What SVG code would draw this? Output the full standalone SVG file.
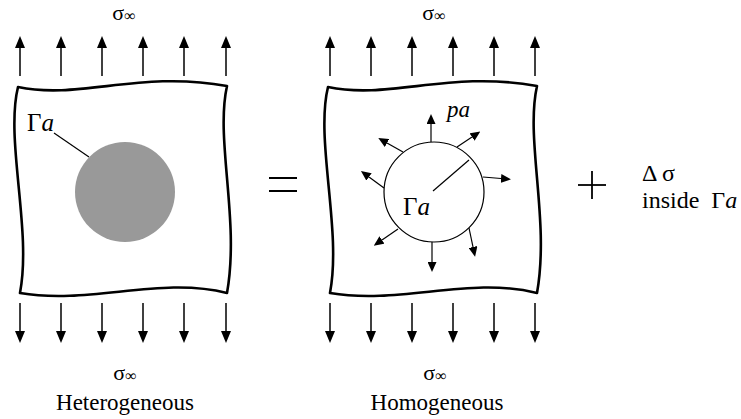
<svg xmlns="http://www.w3.org/2000/svg" width="741" height="419" viewBox="0 0 741 419">
<style>
text{font-family:"Liberation Serif",Tinos,"Times New Roman","DejaVu Serif",serif;fill:#000}
.box{fill:#fff;stroke:#000;stroke-width:2.6;stroke-linejoin:round}
.ar{stroke:#000;stroke-width:1.5;fill:none}
.thin{stroke:#000;stroke-width:1.2;fill:none}
.sig{font-size:22px}
.inf{font-size:16px}
</style>
<defs>
<marker id="ah" viewBox="0 0 12 10" refX="0" refY="5" markerWidth="12" markerHeight="10" markerUnits="userSpaceOnUse" orient="auto">
<path d="M0,0 L12,5 L0,10 Z" fill="#000"/>
</marker>
<marker id="sh" viewBox="0 0 10 9" refX="0" refY="4.5" markerWidth="10" markerHeight="9" markerUnits="userSpaceOnUse" orient="auto">
<path d="M0,0 L10,4.5 L0,9 Z" fill="#000"/>
</marker>
<path id="plate" d="M18,87 C80,100 140,70 227,86 C215,140 240,220 227,293 C160,276 90,305 20,293 C32,230 5,140 18,87 Z"/>
</defs>

<g id="heterogeneous">
<use href="#plate" class="box"/>
<circle cx="125" cy="192" r="50" fill="#999999"/>
<line x1="54" y1="133" x2="89" y2="157" class="thin"/>
<text x="27" y="131" font-size="25">Γ<tspan font-style="italic">a</tspan></text>
</g>

<g id="homogeneous">
<use href="#plate" class="box" transform="translate(310,0)"/>
<circle cx="434" cy="192" r="50" fill="#fff" stroke="#000" stroke-width="1.2"/>
<line x1="433" y1="191" x2="469" y2="160" class="thin"/>
<text x="403" y="215" font-size="25">Γ<tspan font-style="italic">a</tspan></text>
<text x="447" y="117" font-size="23" font-style="italic">pa</text>
</g>

<g id="connectors">
<g class="ar" marker-end="url(#ah)">
<line x1="20" y1="76" x2="20" y2="48"/>
<line x1="61" y1="76" x2="61" y2="48"/>
<line x1="102" y1="76" x2="102" y2="48"/>
<line x1="143" y1="76" x2="143" y2="48"/>
<line x1="184" y1="76" x2="184" y2="48"/>
<line x1="226" y1="76" x2="226" y2="48"/>
<line x1="330" y1="76" x2="330" y2="48"/>
<line x1="371" y1="76" x2="371" y2="48"/>
<line x1="412" y1="76" x2="412" y2="48"/>
<line x1="453" y1="76" x2="453" y2="48"/>
<line x1="494" y1="76" x2="494" y2="48"/>
<line x1="535" y1="76" x2="535" y2="48"/>
<line x1="20" y1="303" x2="20" y2="331"/>
<line x1="61" y1="303" x2="61" y2="331"/>
<line x1="102" y1="303" x2="102" y2="331"/>
<line x1="143" y1="303" x2="143" y2="331"/>
<line x1="184" y1="303" x2="184" y2="331"/>
<line x1="226" y1="303" x2="226" y2="331"/>
<line x1="330" y1="303" x2="330" y2="331"/>
<line x1="371" y1="303" x2="371" y2="331"/>
<line x1="412" y1="303" x2="412" y2="331"/>
<line x1="453" y1="303" x2="453" y2="331"/>
<line x1="494" y1="303" x2="494" y2="331"/>
<line x1="535" y1="303" x2="535" y2="331"/>
</g>
<g class="thin" marker-end="url(#sh)">
<line x1="431" y1="142" x2="431" y2="124"/>
<line x1="457" y1="147" x2="472" y2="137"/>
<line x1="483" y1="177" x2="501" y2="178.5"/>
<line x1="403" y1="152" x2="387" y2="143"/>
<line x1="384" y1="188" x2="369" y2="177"/>
<line x1="398" y1="229" x2="382" y2="240"/>
<line x1="432" y1="242" x2="432" y2="262"/>
<line x1="469" y1="228" x2="473" y2="247"/>
</g>
</g>

<g id="labels">
<text class="sig" x="124" y="20" text-anchor="middle">σ<tspan class="inf" dy="1">∞</tspan></text>
<text class="sig" x="434" y="20" text-anchor="middle">σ<tspan class="inf" dy="1">∞</tspan></text>
<text class="sig" x="125" y="380" text-anchor="middle">σ<tspan class="inf" dy="1">∞</tspan></text>
<text class="sig" x="435" y="380" text-anchor="middle">σ<tspan class="inf" dy="1">∞</tspan></text>
<text x="125" y="410" text-anchor="middle" font-size="23">Heterogeneous</text>
<text x="437" y="410" text-anchor="middle" font-size="23">Homogeneous</text>
</g>

<g id="equals">
<line x1="269" y1="178" x2="297" y2="178" stroke="#000" stroke-width="2"/>
<line x1="269" y1="191" x2="297" y2="191" stroke="#000" stroke-width="2"/>
</g>
<g id="plus">
<line x1="578" y1="185" x2="606" y2="185" stroke="#000" stroke-width="1.8"/>
<line x1="592" y1="171" x2="592" y2="199" stroke="#000" stroke-width="1.8"/>
</g>
<g id="delta">
<text x="642" y="181" font-size="24">Δ σ</text>
<text x="642" y="208" font-size="24" xml:space="preserve">inside  Γ<tspan font-style="italic">a</tspan></text>
</g>
</svg>
